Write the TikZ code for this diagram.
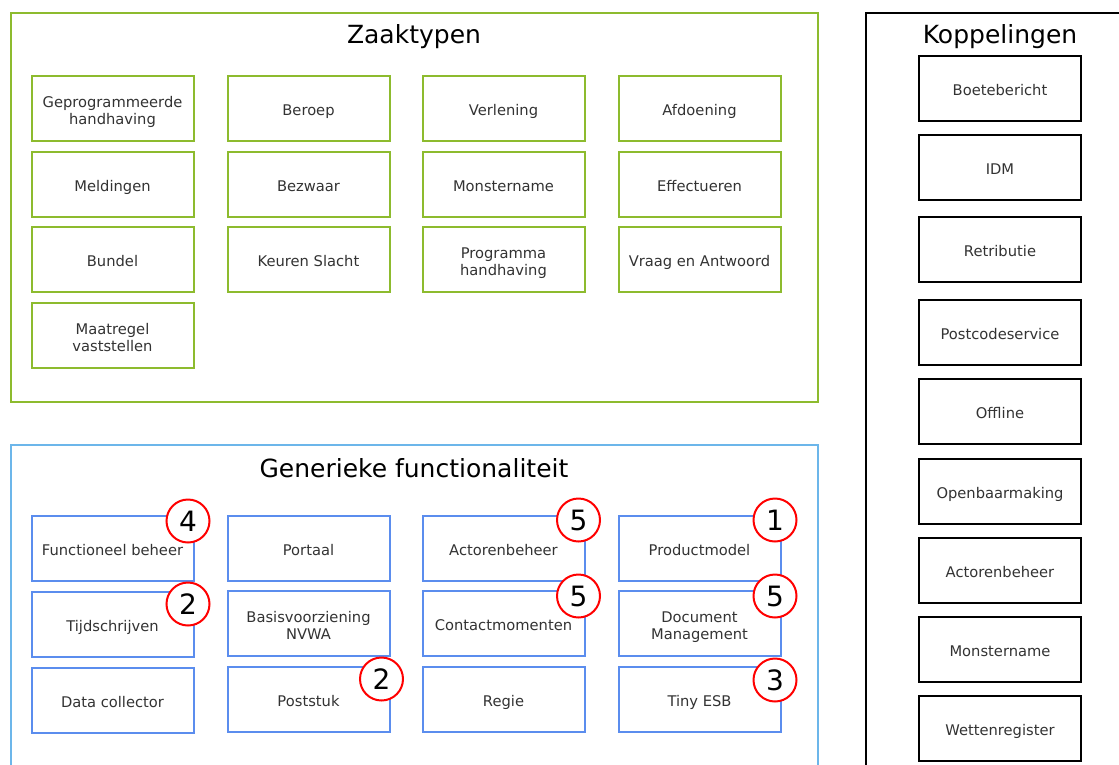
\documentclass[tikz,border=0pt]{standalone}
\usepackage{fontspec}
\setmainfont{DejaVu Sans}
\definecolor{grn}{HTML}{8DBB2E}
\definecolor{lblue}{HTML}{6CB6EA}
\definecolor{mblue}{HTML}{5B8DEE}
\definecolor{txt}{HTML}{333333}
\newcommand{\twolines}[2]{\raisebox{-4pt}[21pt][14pt]{\begin{tabular}{@{}c@{}}#1\\#2\end{tabular}}}
\tikzset{
 bx/.style={draw,line width=2pt,fill=white,minimum width=162pt,minimum height=65pt,inner sep=0pt,align=center,text=txt,font=\fontsize{14.7}{17.5}\selectfont,anchor=center,execute at begin node={\rule{0pt}{18.25pt}},execute at end node=\strut},
 gbox/.style={bx,draw=grn},
 bbox/.style={bx,draw=mblue},
 kbox/.style={bx,draw=black},
 title/.style={font=\fontsize{25}{30}\selectfont,text=black,inner sep=0pt},
 badge/.style={circle,draw=red,line width=2pt,fill=white,minimum size=43pt,inner sep=0pt,font=\fontsize{28}{30}\selectfont,text=black},
}
\begin{document}
\begin{tikzpicture}[x=1pt,y=-1pt]
\useasboundingbox (0,0) rectangle (1119,764);
\clip (0,0) rectangle (1119,764);
\fill[white] (0,0) rectangle (1119,764);
\draw[grn,line width=2pt] (11,12.5) rectangle (818,402);
\draw[lblue,line width=2pt] (11,445) rectangle (818,790);
\draw[black,line width=2pt] (866,12.5) rectangle (1140,790);
\node[title] (tz) at (414,36.5) {Zaaktypen};
\node[title] (tg) at (414,468.5) {Generieke functionaliteit};
\node[title] (tk) at (1000,36.5) {Koppelingen};
% Zaaktypen
\node[gbox] (z11) at (112.5,108.5) {\twolines{Geprogrammeerde}{handhaving}};
\node[gbox] (z12) at (308.5,108.5) {Beroep};
\node[gbox] (z13) at (503.5,108.5) {Verlening};
\node[gbox] (z14) at (699.5,108.5) {Afdoening};
\node[gbox] (z21) at (112.5,184.5) {Meldingen};
\node[gbox] (z22) at (308.5,184.5) {Bezwaar};
\node[gbox] (z23) at (503.5,184.5) {Monstername};
\node[gbox] (z24) at (699.5,184.5) {Effectueren};
\node[gbox] (z31) at (112.5,259.5) {Bundel};
\node[gbox] (z32) at (308.5,259.5) {Keuren Slacht};
\node[gbox] (z33) at (503.5,259.5) {\twolines{Programma}{handhaving}};
\node[gbox] (z34) at (699.5,259.5) {Vraag en Antwoord};
\node[gbox] (z41) at (112.5,335.5) {\twolines{Maatregel}{vaststellen}};
% Generiek
\node[bbox] (g11) at (112.5,548.5) {Functioneel beheer};
\node[bbox] (g12) at (308.5,548.5) {Portaal};
\node[bbox] (g13) at (503.5,548.5) {Actorenbeheer};
\node[bbox] (g14) at (699.5,548.5) {Productmodel};
\node[bbox] (g21) at (112.5,624.5) {Tijdschrijven};
\node[bbox] (g22) at (308.5,623.5) {\twolines{Basisvoorziening}{NVWA}};
\node[bbox] (g23) at (503.5,623.5) {Contactmomenten};
\node[bbox] (g24) at (699.5,623.5) {\twolines{Document}{Management}};
\node[bbox] (g31) at (112.5,700.5) {Data collector};
\node[bbox] (g32) at (308.5,699.5) {Poststuk};
\node[bbox] (g33) at (503.5,699.5) {Regie};
\node[bbox] (g34) at (699.5,699.5) {Tiny ESB};
% Koppelingen
\node[kbox] (k1) at (1000,88.5) {Boetebericht};
\node[kbox] (k2) at (1000,167.5) {IDM};
\node[kbox] (k3) at (1000,249.5) {Retributie};
\node[kbox] (k4) at (1000,332.5) {Postcodeservice};
\node[kbox] (k5) at (1000,411.5) {Offline};
\node[kbox] (k6) at (1000,491.5) {Openbaarmaking};
\node[kbox] (k7) at (1000,570.5) {Actorenbeheer};
\node[kbox] (k8) at (1000,649.5) {Monstername};
\node[kbox] (k9) at (1000,728.5) {Wettenregister};
% badges
\node[badge] (b1) at (188,521) {4};
\node[badge] (b2) at (188,604) {2};
\node[badge] (b3) at (381.5,679) {2};
\node[badge] (b4) at (578.5,520) {5};
\node[badge] (b5) at (578.5,596) {5};
\node[badge] (b6) at (775,520) {1};
\node[badge] (b7) at (775,596) {5};
\node[badge] (b8) at (775,680) {3};
\end{tikzpicture}
\end{document}
